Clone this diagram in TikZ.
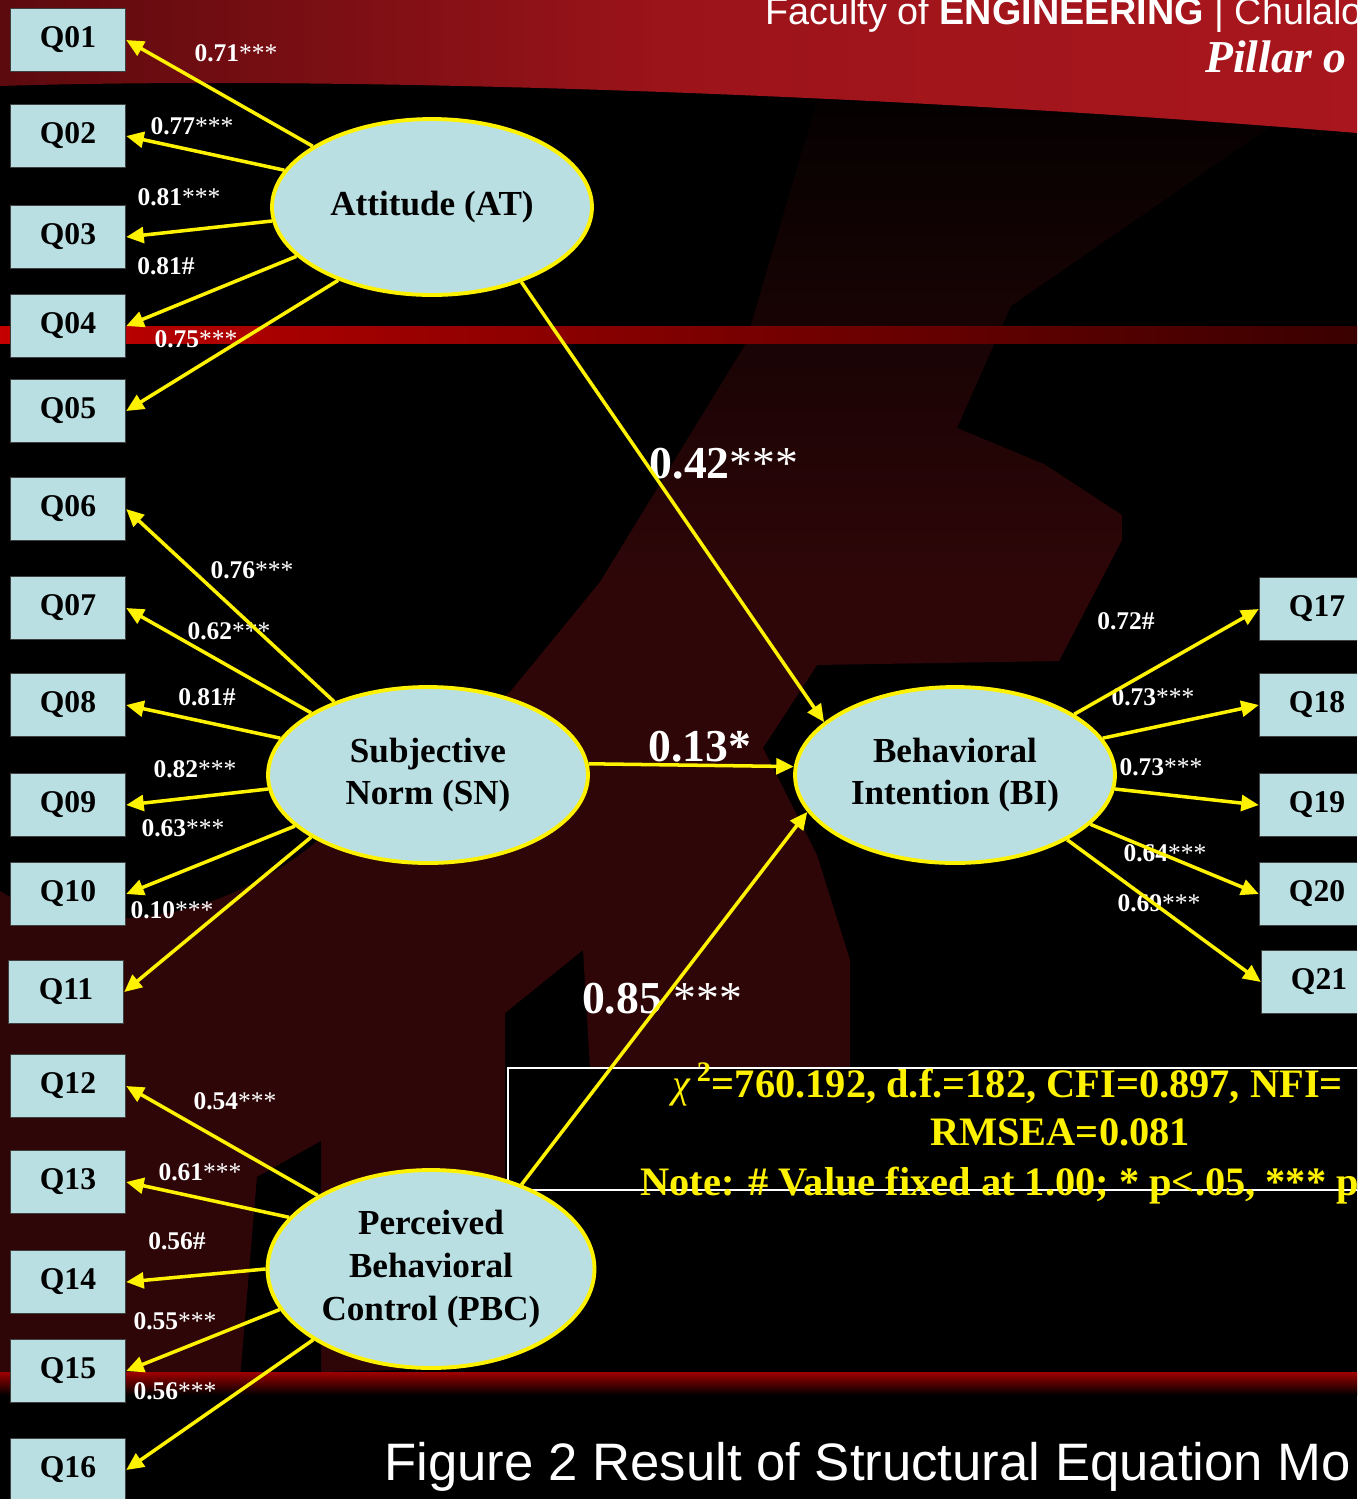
\documentclass[tikz,border=0pt]{standalone}
\usepackage{fontspec}
\setmainfont{Liberation Serif}
\setsansfont{Liberation Sans}
\usetikzlibrary{shapes.geometric, arrows.meta}

\definecolor{qblue}{HTML}{B9DFE3}
\definecolor{bgmaroon}{HTML}{2E0608}
\definecolor{bgdark}{HTML}{050101}
\definecolor{headleft}{HTML}{5C0A0E}
\definecolor{headmid}{HTML}{9C141A}
\definecolor{headright}{HTML}{A9161D}
\definecolor{bandleft}{HTML}{C40000}
\definecolor{bandright}{HTML}{3A0000}
\definecolor{bandlow}{HTML}{A00000}

\newcommand{\sig}{{\mdseries ***}}

\tikzset{
  item/.style={rectangle, draw=black!75, line width=0.8pt, fill=qblue,
    minimum width=2.3cm, minimum height=1.26cm, inner sep=0pt,
    font=\fontsize{18}{20}\selectfont\bfseries},
  latent/.style={ellipse, draw=yellow, line width=2.2pt, fill=qblue,
    minimum width=6.4cm, minimum height=3.52cm, inner sep=0pt, align=center,
    font=\fontsize{20}{24.4}\selectfont\bfseries},
  load/.style={text=white, inner sep=0pt, font=\fontsize{14.5}{16}\selectfont\bfseries},
  coef/.style={text=white, inner sep=0pt, font=\fontsize{26}{28}\selectfont\bfseries},
  fit/.style={text=yellow, inner sep=0pt, font=\fontsize{23}{26}\selectfont\bfseries},
  arr/.style={draw=yellow, line width=2pt, -{Triangle[length=10pt, width=9pt]}},
}

\begin{document}
\begin{tikzpicture}[x=0.02cm, y=-0.02cm]
% slide background
\useasboundingbox (0,0) rectangle (1357,1499);
\clip (0,0) rectangle (1357,1499);
\fill[black] (0,0) rectangle (1357,1499);

% faint logo
\begin{scope}
\clip (817,100) -- (1280,120) -- (1011,306) -- (957,428) -- (1044,464) -- (1122,515)
  -- (1122,540) -- (1059,661) -- (817,665) -- (763,748) -- (817,855) -- (850,960)
  -- (850,1068) -- (590,1068) -- (583,950) -- (505,1013) -- (505,1180) -- (400,1370)
  -- (0,1380) -- (0,891) .. controls (60,930) and (200,940) .. (321,838)
  -- (510,692) -- (600,582) -- (745,345) -- cycle;
\shade[top color=bgdark, bottom color=bgmaroon] (0,100) rectangle (1357,580);
\fill[bgmaroon] (0,580) rectangle (1357,1499);
\end{scope}
\fill[black] (257,1177) -- (321,1141) -- (321,1380) -- (240,1380) -- cycle;

% header and bands
\shade[left color=headleft, right color=headright, middle color=headmid]
  (0,0) -- (1357,0) -- (1357,133) .. controls (900,95) and (350,75) .. (0,86) -- cycle;
\shade[left color=bandleft, right color=bandright] (0,326) rectangle (1357,343);
\shade[top color=bandlow, bottom color=black] (0,1372) rectangle (1357,1395);

\node[anchor=base west, inner sep=0pt, text=white, font=\sffamily\fontsize{21.5}{24}\selectfont] (faculty) at (765,24) {Faculty of \textbf{ENGINEERING} | Chulalo};
\node[anchor=base west, inner sep=0pt, text=white, font=\fontsize{26}{30}\selectfont\bfseries\itshape] (pillar) at (1205,72) {Pillar o};
\node[anchor=base west, inner sep=0pt, text=white, font=\sffamily\fontsize{30}{36}\selectfont] (caption) at (384,1480) {Figure 2 Result of Structural Equation Mo};

% fit indices
\node[draw=white, line width=1.2pt, fill=black, minimum width=22.08cm, minimum height=2.44cm, inner sep=0pt] (fitbox) at (1060,1129) {};
\node[fit, anchor=base west] (fitA) at (672,1097) {{\mdseries\itshape χ}\,\textsuperscript{2}=760.192, d.f.=182, CFI=0.897, NFI=};
\node[fit, anchor=base] (fitB) at (1060,1145) {RMSEA=0.081};
\node[fit, anchor=base west] (fitC) at (640,1195) {Note: \# Value fixed at 1.00; * p<.05, *** p};

% observed items
\node[item] (Q01) at (68,40) {Q01};
\node[item] (Q02) at (68,136) {Q02};
\node[item] (Q03) at (68,237) {Q03};
\node[item] (Q04) at (68,326) {Q04};
\node[item] (Q05) at (68,411) {Q05};
\node[item] (Q06) at (68,509) {Q06};
\node[item] (Q07) at (68,608) {Q07};
\node[item] (Q08) at (68,705) {Q08};
\node[item] (Q09) at (68,805) {Q09};
\node[item] (Q10) at (68,894) {Q10};
\node[item] (Q11) at (66,992) {Q11};
\node[item] (Q12) at (68,1086) {Q12};
\node[item] (Q13) at (68,1182) {Q13};
\node[item] (Q14) at (68,1282) {Q14};
\node[item] (Q15) at (68,1371) {Q15};
\node[item] (Q16) at (68,1470) {Q16};
\node[item] (Q17) at (1317,609) {Q17};
\node[item] (Q18) at (1317,705) {Q18};
\node[item] (Q19) at (1317,805) {Q19};
\node[item] (Q20) at (1317,894) {Q20};
\node[item] (Q21) at (1319,982) {Q21};

% latent variables
\node[latent] (AT) at (432,207) {Attitude (AT)};
\node[latent] (SN) at (428,775) {Subjective\\Norm (SN)};
\node[latent, minimum width=6.54cm, minimum height=3.96cm] (PBC) at (431,1269) {Perceived\\Behavioral\\Control (PBC)};
\node[latent] (BI) at (955,775) {Behavioral\\Intention (BI)};

% loadings
\node[load] (l01) at (236,53) {0.71\sig};
\node[load] (l02) at (192,126) {0.77\sig};
\node[load] (l03) at (179,197) {0.81\sig};
\node[load] (l04) at (166,266) {0.81\#};
\node[load] (l05) at (196,339) {0.75\sig};
\node[load] (l06) at (252,570) {0.76\sig};
\node[load] (l07) at (229,631) {0.62\sig};
\node[load] (l08) at (207,697) {0.81\#};
\node[load] (l09) at (195,769) {0.82\sig};
\node[load] (l10) at (183,828) {0.63\sig};
\node[load] (l11) at (172,910) {0.10\sig};
\node[load] (l12) at (235,1101) {0.54\sig};
\node[load] (l13) at (200,1172) {0.61\sig};
\node[load] (l14) at (177,1241) {0.56\#};
\node[load] (l15) at (175,1321) {0.55\sig};
\node[load] (l16) at (175,1391) {0.56\sig};
\node[load] (l17) at (1126,621) {0.72\#};
\node[load] (l18) at (1153,697) {0.73\sig};
\node[load] (l19) at (1161,767) {0.73\sig};
\node[load] (l20) at (1165,853) {0.64\sig};
\node[load] (l21) at (1159,903) {0.69\sig};

% path coefficients
\node[coef] (cAT) at (724,464) {0.42\sig};
\node[coef] (cSN) at (700,747) {0.13*};
\node[coef] (cPBC) at (662,999) {0.85 \sig};

% measurement arrows
\draw[arr] (AT.153) -- (Q01.east);
\draw[arr] (AT.166) -- (Q02.east);
\draw[arr] (AT.185) -- (Q03.east);
\draw[arr] (AT.200) -- (Q04.east);
\draw[arr] (AT.218) -- (Q05.east);
\draw[arr] (SN.142) -- (Q06.east);
\draw[arr] (SN.152) -- (Q07.east);
\draw[arr] (SN.166) -- (Q08.east);
\draw[arr] (SN.185) -- (Q09.east);
\draw[arr] (SN.201) -- (Q10.east);
\draw[arr] (SN.208) -- (Q11.east);
\draw[arr] (PBC.147) -- (Q12.east);
\draw[arr] (PBC.160) -- (Q13.east);
\draw[arr] (PBC.180) -- (Q14.east);
\draw[arr] (PBC.195) -- (Q15.east);
\draw[arr] (PBC.211) -- (Q16.east);
\draw[arr] (BI.27) -- (Q17.west);
\draw[arr] (BI.14) -- (Q18.west);
\draw[arr] (BI.-5) -- (Q19.west);
\draw[arr] (BI.-20) -- (Q20.west);
\draw[arr] (BI.-30) -- (Q21.west);

% structural arrows
\draw[arr] (AT.-40) -- (BI.158);
\draw[arr] (SN.4) -- (BI.177);
\draw[arr] (PBC.43) -- (BI.194);
\end{tikzpicture}
\end{document}
